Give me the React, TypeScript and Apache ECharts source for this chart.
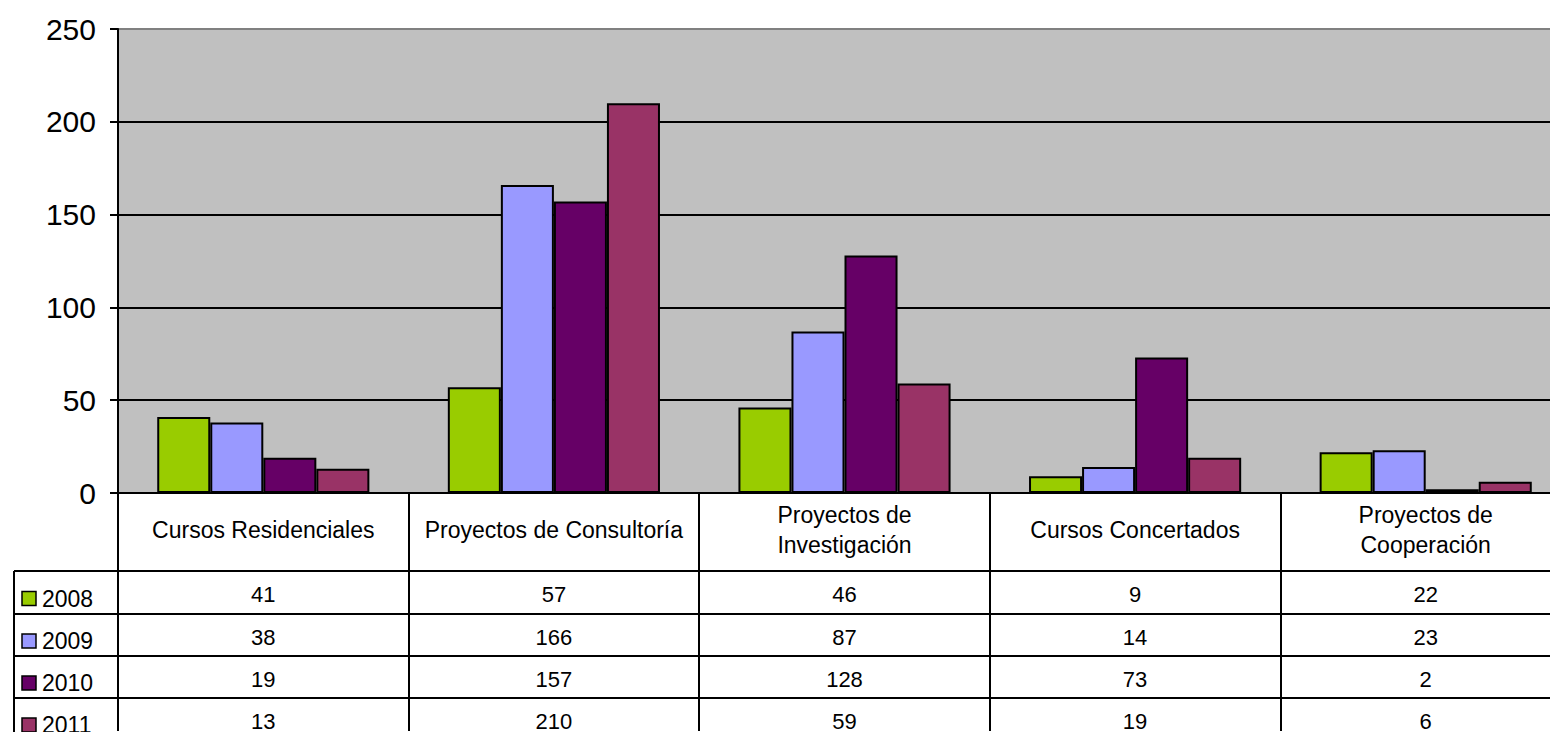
import React, { useEffect, useRef } from "react";
import * as echarts from "echarts";

const categories = [
  "Cursos Residenciales",
  "Proyectos de Consultoría",
  "Proyectos de Investigación",
  "Cursos Concertados",
  "Proyectos de Cooperación",
];
const years = ["2008", "2009", "2010", "2011"];
const values2008 = [41, 57, 46, 9, 22];
const values2009 = [38, 166, 87, 14, 23];
const values2010 = [19, 157, 128, 73, 2];
const values2011 = [13, 210, 59, 19, 6];
const seriesValues = [values2008, values2009, values2010, values2011];
const colors = ["#99CC00", "#9999FF", "#660066", "#993366"];
const yTicks = [0, 50, 100, 150, 200, 250];

const FONT = "'Liberation Sans', Arial, sans-serif";

export default function App() {
  const ref = useRef<HTMLDivElement>(null);
  useEffect(() => {
    document.body.style.margin = "0";
    document.body.style.overflow = "hidden";
    const chart = echarts.init(ref.current!, null, { renderer: "svg" });

    const plotTop = 29;
    const plotBottom = 494;
    const totalH = 732;
    const rowLines = [571, 614, 656, 698, 740];
    const rowCenters = rowLines.slice(0, 4).map((y, i) => (y + rowLines[i + 1]) / 2);

    const headerLabel = (v: string) =>
      v === "Proyectos de Investigación" || v === "Proyectos de Cooperación"
        ? v.replace(" de ", " de\n")
        : v;

    const valueAxes = seriesValues.map((vals, k) => ({
      type: "category",
      data: categories,
      position: "bottom",
      offset: rowCenters[k] - plotBottom + 3,
      axisLine: { show: false },
      axisTick: { show: false },
      splitLine: { show: false },
      axisLabel: {
        interval: 0,
        margin: 0,
        verticalAlign: "middle",
        fontSize: 22,
        fontFamily: FONT,
        color: "#000",
        formatter: (_v: string, i: number) => String(vals[i]),
      },
    }));

    const lineStyle = { stroke: "#000", lineWidth: 2 };
    const graphics: any[] = [];
    rowLines.slice(0, 4).forEach((y) => {
      graphics.push({
        type: "line",
        shape: { x1: 14, y1: y, x2: 1571, y2: y },
        style: lineStyle,
        z: 10,
      });
    });
    graphics.push({
      type: "line",
      shape: { x1: 14, y1: rowLines[0], x2: 14, y2: totalH },
      style: lineStyle,
      z: 10,
    });
    years.forEach((y, k) => {
      graphics.push({
        type: "rect",
        shape: { x: 22, y: rowCenters[k] - 1, width: 14, height: 14 },
        style: { fill: colors[k], stroke: "#000", lineWidth: 1.5 },
        z: 10,
      });
      graphics.push({
        type: "text",
        x: 42,
        y: rowCenters[k] + 6,
        style: {
          text: y,
          fontSize: 23,
          fontFamily: FONT,
          fill: "#000",
          verticalAlign: "middle",
          align: "left",
        },
        z: 10,
      });
    });

    chart.setOption({
      animation: false,
      backgroundColor: "#fff",
      textStyle: { fontFamily: FONT },
      grid: {
        left: 118,
        top: plotTop,
        right: 0,
        bottom: totalH - plotBottom,
        show: true,
        backgroundColor: "#C0C0C0",
        borderColor: "#808080",
        borderWidth: 2,
      },
      xAxis: [
        {
          type: "category",
          data: categories,
          position: "bottom",
          axisLine: { show: true, lineStyle: { color: "#000", width: 2 } },
          axisTick: {
            show: true,
            length: totalH - plotBottom,
            inside: false,
            lineStyle: { color: "#000", width: 2 },
          },
          axisLabel: {
            interval: 0,
            margin: 37,
            verticalAlign: "middle",
            fontSize: 23,
            lineHeight: 30,
            fontFamily: FONT,
            color: "#000",
            formatter: headerLabel,
          },
        },
        ...valueAxes,
      ],
      yAxis: {
        type: "value",
        min: yTicks[0],
        max: yTicks[yTicks.length - 1],
        interval: 50,
        axisLine: { show: true, lineStyle: { color: "#000", width: 2 } },
        axisTick: { show: true, length: 8, lineStyle: { color: "#000", width: 2 } },
        axisLabel: {
          margin: 22,
          fontSize: 30,
          fontFamily: FONT,
          color: "#000",
        },
        splitLine: {
          show: true,
          lineStyle: {
            color: ["#000", "#000", "#000", "#000", "#000", "#808080"],
            width: 2,
          },
        },
      },
      series: years.map((y, k) => ({
        name: y,
        type: "bar",
        data: seriesValues[k],
        barGap: "0%",
        barCategoryGap: "27%",
        itemStyle: { color: colors[k], borderColor: "#000", borderWidth: 2 },
      })),
      graphic: graphics,
    });
    return () => chart.dispose();
  }, []);
  return (
    <div style={{ width: 1550, height: 732, overflow: "hidden" }}>
      <div ref={ref} style={{ width: 1571, height: 732 }} />
    </div>
  );
}
